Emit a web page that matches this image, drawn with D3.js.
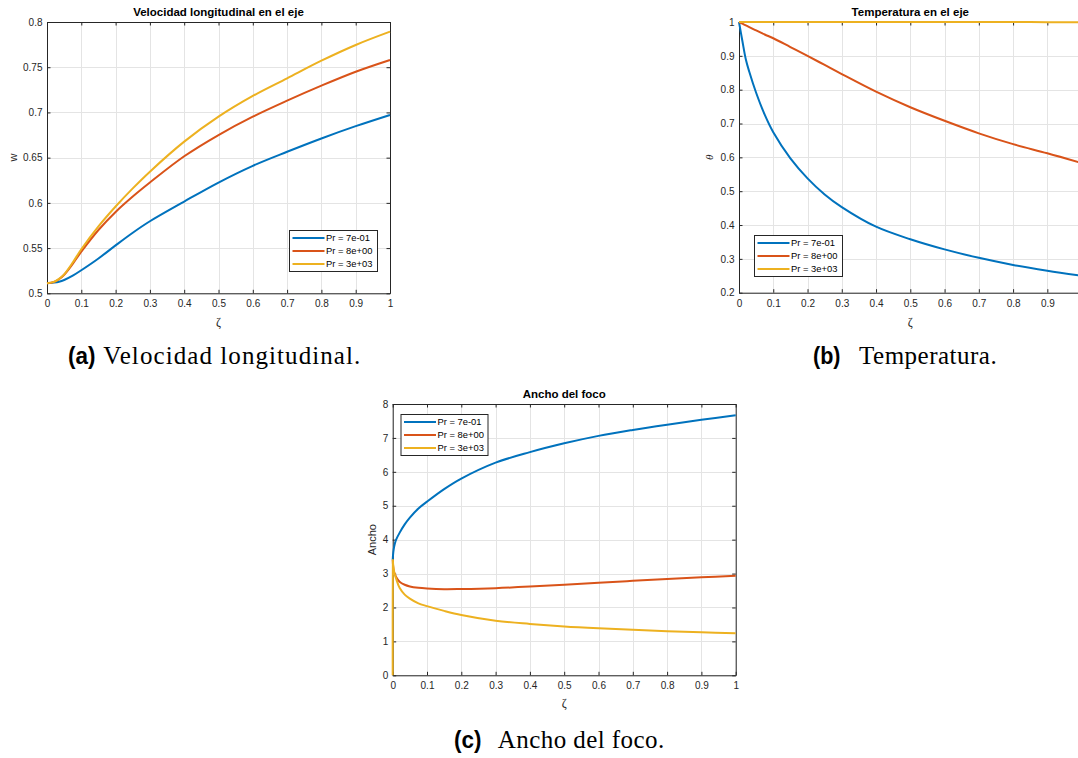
<!DOCTYPE html>
<html>
<head>
<meta charset="utf-8">
<script src="https://cdn.jsdelivr.net/npm/d3@7"></script>
<style>
  html, body { margin: 0; padding: 0; background: #fff; }
  svg { display: block; }
</style>
</head>
<body>
<svg id="fig" width="1078" height="758"></svg>
<script>
// ---------- series metadata ----------
const seriesNames  = ["Pr = 7e-01", "Pr = 8e+00", "Pr = 3e+03"];
const seriesColors = ["#0072BD", "#D95319", "#EDB120"];

// ---------- shared tick values ----------
const zetaTicks   = [0, 0.1, 0.2, 0.3, 0.4, 0.5, 0.6, 0.7, 0.8, 0.9, 1];
const wTicks      = [0.5, 0.55, 0.6, 0.65, 0.7, 0.75, 0.8];
const thetaTicks  = [0.2, 0.3, 0.4, 0.5, 0.6, 0.7, 0.8, 0.9, 1];
const anchoTicks  = [0, 1, 2, 3, 4, 5, 6, 7, 8];

// ---------- (a) axial velocity on the axis ----------
const zetaA   = [0, 0.02, 0.035, 0.05, 0.075, 0.1, 0.15, 0.2, 0.25, 0.3, 0.4, 0.5, 0.6, 0.7, 0.8, 0.9, 1.0];
const wPr07   = [0.511, 0.5118, 0.5128, 0.5147, 0.5195, 0.5255, 0.5385, 0.553, 0.567, 0.5797, 0.6015, 0.6225, 0.641, 0.6565, 0.6712, 0.6848, 0.6972];
const wPr8    = [0.511, 0.5125, 0.5155, 0.5205, 0.5325, 0.546, 0.570, 0.590, 0.607, 0.6225, 0.6515, 0.675, 0.6953, 0.713, 0.7296, 0.745, 0.758];
const wPr3000 = [0.511, 0.5127, 0.516, 0.521, 0.534, 0.5487, 0.574, 0.596, 0.616, 0.6345, 0.6677, 0.6953, 0.7182, 0.7377, 0.7572, 0.7746, 0.7893];

// ---------- (b) temperature on the axis ----------
const zetaB       = [0, 0.01, 0.02, 0.03, 0.05, 0.075, 0.1, 0.15, 0.2, 0.25, 0.3, 0.4, 0.5, 0.6, 0.7, 0.8, 0.9, 1.0];
const thetaPr07   = [1.0, 0.943, 0.889, 0.853, 0.791, 0.726, 0.674, 0.597, 0.538, 0.4905, 0.453, 0.395, 0.358, 0.328, 0.303, 0.282, 0.265, 0.250];
const thetaPr8    = [1.0, 0.995, 0.99, 0.985, 0.975, 0.963, 0.952, 0.926, 0.900, 0.873, 0.846, 0.794, 0.748, 0.708, 0.671, 0.639, 0.612, 0.583];
const thetaPr3000 = [1.0, 1.0, 1.0, 1.0, 1.0, 1.0, 1.0, 1.0, 1.0, 1.0, 1.0, 1.0, 1.0, 1.0, 1.0, 1.0, 0.9995, 0.9993];

// ---------- (c) jet width ----------
const zetaC       = [0, 0.0005, 0.001, 0.003, 0.006, 0.01, 0.02, 0.035, 0.05, 0.075, 0.1, 0.15, 0.2, 0.3, 0.4, 0.5, 0.6, 0.7, 0.8, 0.9, 1.0];
const anchoPr07   = [3.4, 3.48, 3.55, 3.72, 3.87, 4.0, 4.2, 4.45, 4.65, 4.92, 5.12, 5.49, 5.80, 6.27, 6.58, 6.84, 7.06, 7.235, 7.39, 7.535, 7.665];
const anchoPr8    = [3.4, 3.33, 3.25, 3.08, 2.99, 2.9, 2.76, 2.67, 2.62, 2.58, 2.56, 2.54, 2.545, 2.57, 2.615, 2.67, 2.73, 2.785, 2.84, 2.89, 2.935];
const anchoPr3000 = [0, 3.4, 3.3, 3.12, 2.98, 2.85, 2.58, 2.38, 2.26, 2.12, 2.04, 1.9, 1.78, 1.61, 1.515, 1.44, 1.385, 1.34, 1.30, 1.27, 1.24];

const W = 1078;
const svg = d3.select("#fig");
const AX = "#262626";
const GRID = "#e4e4e4";
const SANS = "'Liberation Sans', Arial, Helvetica, sans-serif";
const SERIF = "'Liberation Serif', 'Times New Roman', serif";

function fmt(d) { return String(d); }

function drawPanel(cfg) {
  const { l, r, t, b } = cfg.box;
  const x = d3.scaleLinear().domain(cfg.xDomain).range([l, r]);
  const y = d3.scaleLinear().domain(cfg.yDomain).range([b, t]);
  const g = svg.append("g");

  // background
  g.append("rect").attr("x", l).attr("y", t).attr("width", r - l).attr("height", b - t).attr("fill", "#fff");

  // grid
  const grid = g.append("g").attr("stroke", GRID).attr("stroke-width", 1);
  cfg.xTicks.forEach(v => {
    const px = Math.round(x(v)) + 0.5;
    grid.append("line").attr("x1", px).attr("x2", px).attr("y1", t).attr("y2", b);
  });
  cfg.yTicks.forEach(v => {
    const py = Math.round(y(v)) + 0.5;
    grid.append("line").attr("x1", l).attr("x2", r).attr("y1", py).attr("y2", py);
  });

  // axes: inward ticks on all four sides
  const tick = 3.5;
  const styleAxis = sel => {
    sel.selectAll("path.domain").attr("stroke", AX).attr("stroke-width", 1).attr("fill", "none");
    sel.selectAll(".tick line").attr("stroke", AX).attr("stroke-width", 1);
    sel.selectAll("text").attr("fill", AX).attr("font-family", SANS).attr("font-size", 10);
  };
  const xb = g.append("g").attr("transform", `translate(0,${b})`)
    .call(d3.axisBottom(x).tickValues(cfg.xTicks).tickFormat(fmt).tickSizeInner(-tick).tickSizeOuter(0).tickPadding(7))
    .call(styleAxis);
  // labels whose tick falls past the page edge are not shown
  xb.selectAll(".tick").filter(d => x(d) > W - 2).select("text").remove();
  g.append("g").attr("transform", `translate(${l},0)`)
    .call(d3.axisLeft(y).tickValues(cfg.yTicks).tickFormat(fmt).tickSizeInner(-tick).tickSizeOuter(0).tickPadding(4.5))
    .call(styleAxis);
  g.append("g").attr("transform", `translate(0,${t})`)
    .call(d3.axisTop(x).tickValues(cfg.xTicks).tickFormat("").tickSizeInner(-tick).tickSizeOuter(0))
    .call(styleAxis);
  g.append("g").attr("transform", `translate(${r},0)`)
    .call(d3.axisRight(y).tickValues(cfg.yTicks).tickFormat("").tickSizeInner(-tick).tickSizeOuter(0))
    .call(styleAxis);

  // series (drawn over the axes box)
  const line = d3.line()
    .x(d => x(d[0]))
    .y(d => y(d[1]))
    .curve(d3.curveCatmullRom.alpha(0.5));
  cfg.series.forEach((s, i) => {
    const pts = s.x.map((v, k) => [v, s.y[k]]);
    g.append("path")
      .attr("d", line(pts))
      .attr("fill", "none")
      .attr("stroke", seriesColors[i])
      .attr("stroke-width", 2)
      .attr("stroke-linejoin", "round");
  });

  // title
  g.append("text")
    .attr("x", (l + r) / 2).attr("y", cfg.titleY)
    .attr("text-anchor", "middle")
    .attr("font-family", SANS).attr("font-weight", "bold").attr("font-size", 11.5)
    .attr("fill", "#000")
    .text(cfg.title);

  // x label
  g.append("text")
    .attr("x", (l + r) / 2).attr("y", cfg.xLabelY)
    .attr("text-anchor", "middle")
    .attr("font-family", SERIF).attr("font-size", 12)
    .attr("fill", AX)
    .text(cfg.xLabel);

  // y label
  g.append("text")
    .attr("transform", `translate(${cfg.yLabelX},${(t + b) / 2}) rotate(-90)`)
    .attr("text-anchor", "middle")
    .attr("font-family", cfg.yLabelFont || SANS)
    .attr("font-style", cfg.yLabelItalic ? "italic" : "normal")
    .attr("font-size", 11)
    .attr("fill", AX)
    .text(cfg.yLabel);

  // legend
  const L = cfg.legend;
  const lg = g.append("g");
  lg.append("rect")
    .attr("x", L.x + 0.5).attr("y", L.y + 0.5).attr("width", L.w).attr("height", L.h)
    .attr("fill", "#fff").attr("stroke", AX).attr("stroke-width", 1);
  seriesNames.forEach((name, i) => {
    const yy = L.y + 8 + i * 13;
    lg.append("line")
      .attr("x1", L.x + 3.5).attr("x2", L.x + 35.5).attr("y1", yy).attr("y2", yy)
      .attr("stroke", seriesColors[i]).attr("stroke-width", 2);
    lg.append("text")
      .attr("x", L.x + 37).attr("y", yy + 3.4)
      .attr("font-family", SANS).attr("font-size", 9.4)
      .attr("fill", "#000")
      .text(name);
  });
}

drawPanel({
  box: { l: 47, r: 390, t: 22, b: 293.3 },
  xDomain: [0, 1], yDomain: [0.5, 0.8],
  xTicks: zetaTicks, yTicks: wTicks,
  title: "Velocidad longitudinal en el eje", titleY: 16,
  xLabel: "ζ", xLabelY: 326,
  yLabel: "w", yLabelX: 17,
  series: [
    { x: zetaA, y: wPr07 },
    { x: zetaA, y: wPr8 },
    { x: zetaA, y: wPr3000 }
  ],
  legend: { x: 289, y: 230, w: 88, h: 41 }
});

drawPanel({
  box: { l: 739, r: 1081.6, t: 22, b: 292.7 },
  xDomain: [0, 1], yDomain: [0.2, 1],
  xTicks: zetaTicks, yTicks: thetaTicks,
  title: "Temperatura en el eje", titleY: 16,
  xLabel: "ζ", xLabelY: 326,
  yLabel: "θ", yLabelX: 712.5, yLabelFont: SERIF, yLabelItalic: true,
  series: [
    { x: zetaB, y: thetaPr07 },
    { x: zetaB, y: thetaPr8 },
    { x: zetaB, y: thetaPr3000 }
  ],
  legend: { x: 754, y: 235, w: 88, h: 41 }
});

drawPanel({
  box: { l: 392.7, r: 735.7, t: 404, b: 675.3 },
  xDomain: [0, 1], yDomain: [0, 8],
  xTicks: zetaTicks, yTicks: anchoTicks,
  title: "Ancho del foco", titleY: 398,
  xLabel: "ζ", xLabelY: 707,
  yLabel: "Ancho", yLabelX: 376,
  series: [
    { x: zetaC, y: anchoPr07 },
    { x: zetaC, y: anchoPr8 },
    { x: zetaC, y: anchoPr3000 }
  ],
  legend: { x: 400.5, y: 414, w: 87, h: 41 }
});

// ---------- sub-figure captions ----------
const captions = [
  { tag: "(a)", tagX: 68,  text: "Velocidad longitudinal.", textX: 103.3, width: 257,   y: 364 },
  { tag: "(b)", tagX: 813, text: "Temperatura.",            textX: 859,   width: 137.7, y: 364 },
  { tag: "(c)", tagX: 454, text: "Ancho del foco.",         textX: 497.7, width: 166.6, y: 748 }
];
captions.forEach(c => {
  svg.append("text")
    .attr("x", c.tagX).attr("y", c.y)
    .attr("font-family", SANS).attr("font-weight", "bold").attr("font-size", 23)
    .attr("textLength", 27.5).attr("lengthAdjust", "spacingAndGlyphs")
    .attr("fill", "#000")
    .text(c.tag);
  svg.append("text")
    .attr("x", c.textX).attr("y", c.y)
    .attr("font-family", SERIF).attr("font-size", 25)
    .attr("textLength", c.width).attr("lengthAdjust", "spacing")
    .attr("fill", "#000")
    .text(c.text);
});
</script>
</body>
</html>
